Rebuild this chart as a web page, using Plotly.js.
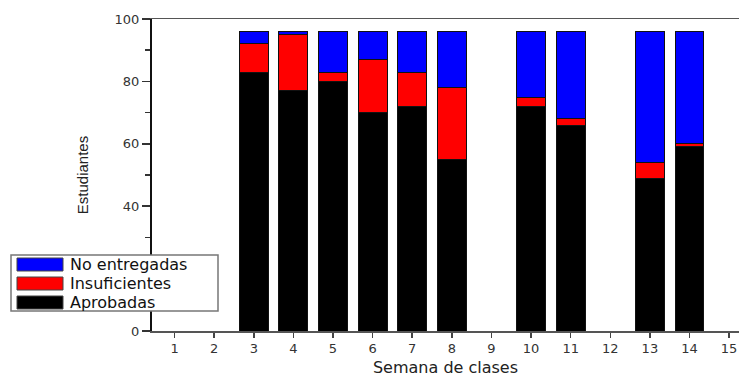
<!DOCTYPE html>
<html><head><meta charset="utf-8">
<script src="https://cdn.plot.ly/plotly-3.0.1.min.js"></script>
<style>html,body{margin:0;padding:0;background:#fff}#c{width:739px;height:378px}</style>
</head><body><div id="c"></div>
<script>
const semanas = [3, 4, 5, 6, 7, 8, 10, 11, 13, 14];
const aprobadas = [83, 77, 80, 70, 72, 55, 72, 66, 49, 59];
const insuficientes = [9, 18, 3, 17, 11, 23, 3, 2, 5, 1];
const noEntregadas = [4, 1, 13, 9, 13, 18, 21, 28, 42, 36];
const xTicks = [1,2,3,4,5,6,7,8,9,10,11,12,13,14,15];
const yTicks = [0,20,40,60,80,100];
const yTickText = ['0','','40','60','80','100']; // "20" is hidden behind the legend in the reference

const series = [
  {name: 'Aprobadas', y: aprobadas, color: '#000000'},
  {name: 'Insuficientes', y: insuficientes, color: '#ff0000'},
  {name: 'No entregadas', y: noEntregadas, color: '#0000ff'}
];
const data = series.map(s => ({
  type: 'bar', name: s.name, x: semanas, y: s.y, width: 0.73,
  marker: {color: s.color, line: {color: '#111', width: 1}}
}));

// plot area in pixels
const L = 152, R = 739, T = 19, B = 331;
const px = X => (X - L) / (R - L);
const py = Y => (B - Y) / (B - T);

// custom legend (wide swatches as in the reference)
const shapes = [{type: 'rect', xref: 'paper', yref: 'paper', layer: 'above',
  x0: px(11), x1: px(218), y0: py(311), y1: py(255),
  fillcolor: '#fff', line: {color: '#777', width: 1.5}}];
const annotations = [];
const legendOrder = [2, 1, 0];
legendOrder.forEach((k, i) => {
  const top = 258 + i * 19;
  shapes.push({type: 'rect', xref: 'paper', yref: 'paper', layer: 'above',
    x0: px(17), x1: px(63), y0: py(top + 13), y1: py(top),
    fillcolor: series[k].color, line: {color: '#444', width: 1}});
  annotations.push({xref: 'paper', yref: 'paper', x: px(68), y: py(top + 6.5),
    xanchor: 'left', yanchor: 'middle', showarrow: false, text: series[k].name,
    font: {family: 'DejaVu Sans, sans-serif', size: 16, color: '#111'}});
});

const layout = {
  width: 739, height: 378,
  margin: {l: L, r: 739 - R, t: T, b: 378 - B},
  barmode: 'stack',
  paper_bgcolor: '#fff', plot_bgcolor: '#fff',
  font: {family: 'DejaVu Sans, sans-serif', color: '#222'},
  showlegend: false,
  shapes, annotations,
  xaxis: {
    range: [0.43, 15.25], tickvals: xTicks, ticktext: xTicks.map(String),
    showgrid: false, zeroline: false, showline: true, linecolor: '#555', linewidth: 1.5,
    mirror: true, ticks: 'outside', ticklen: 5, tickcolor: '#444', tickwidth: 1.5,
    tickfont: {family: 'DejaVu Sans, sans-serif', size: 13, color: '#333'},
    title: {text: 'Semana de clases', font: {family: 'DejaVu Sans, sans-serif', size: 16, color: '#222'}, standoff: 6}
  },
  yaxis: {
    range: [0, 100], tickvals: yTicks, ticktext: yTickText,
    showgrid: false, zeroline: false, showline: true, linecolor: '#111', linewidth: 2,
    ticks: 'outside', ticklen: 8, tickcolor: '#333', tickwidth: 1.5,
    minor: {dtick: 10, ticks: 'outside', ticklen: 5, tickcolor: '#333', tickwidth: 1.5},
    tickfont: {family: 'DejaVu Sans, sans-serif', size: 13, color: '#333'},
    title: {text: 'Estudiantes', font: {family: 'Liberation Sans, Arial, sans-serif', size: 15, color: '#222'}, standoff: 22}
  }
};
Plotly.newPlot('c', data, layout, {displayModeBar: false, staticPlot: true});
</script></body></html>
